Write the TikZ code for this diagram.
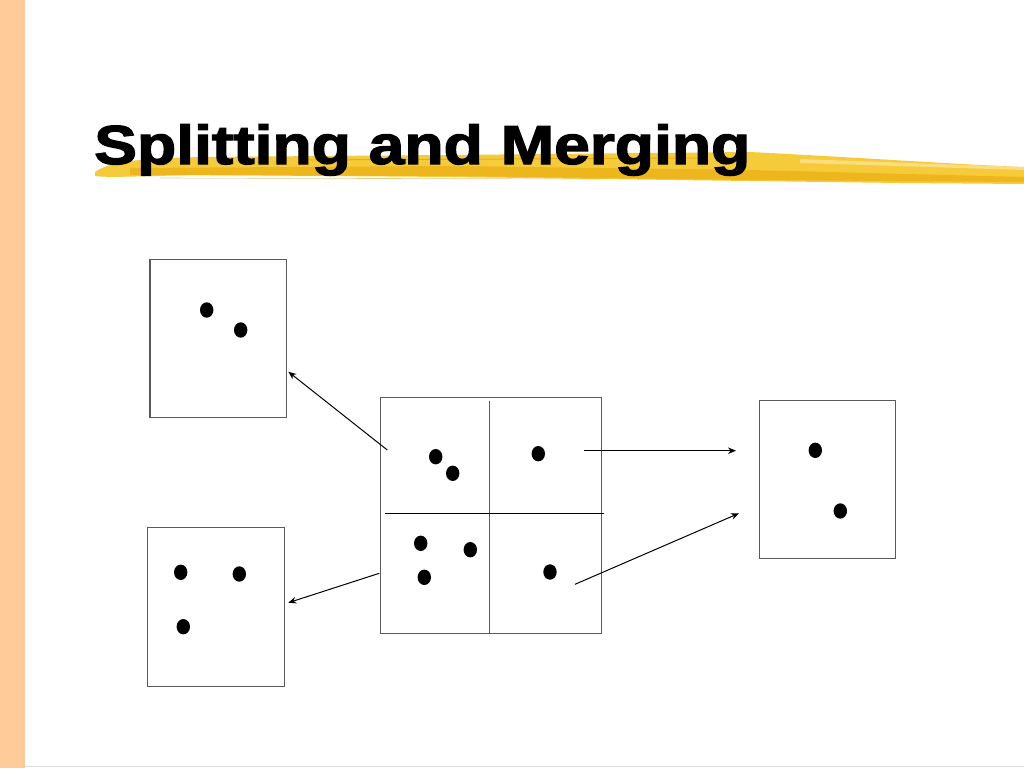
\documentclass[tikz,border=0pt]{standalone}
\usepackage{fontspec}
\usepackage{graphicx}
\newfontfamily\titlefont{Liberation Sans}[Ligatures=NoCommon,BoldFeatures={FakeBold=2.2}]
\usetikzlibrary{arrows.meta}
\definecolor{sidebar}{HTML}{FFCC99}
\definecolor{brushA}{HTML}{F6CB3A}
\definecolor{brushB}{HTML}{EAB012}
\definecolor{boxgray}{HTML}{5A5A5A}
\begin{document}
\begin{tikzpicture}[x=1pt,y=-1pt,
  box/.style={draw=boxgray,line width=1.2pt,inner sep=0pt,outer sep=0pt,
    minimum width=136.5pt,minimum height=158.5pt},
  bigbox/.style={draw=boxgray,line width=1.2pt,inner sep=0pt,outer sep=0pt,
    minimum width=221.5pt,minimum height=235.5pt},
  arr/.style={-{Stealth[length=8pt,width=6.5pt]},line width=1pt,black},
  dot/.style={fill=black}]
\useasboundingbox (0,0) rectangle (1024,768);
\fill[white] (0,0) rectangle (1024,768);
% sidebar and bottom line
\fill[sidebar] (0,0) rectangle (25,768);
\fill[gray!25] (25,765.5) rectangle (1024,767);
% brush stroke
\fill[brushA] (95,172) .. controls (110,162) and (130,159) .. (200,157)
  -- (450,155) -- (750,152) .. controls (850,157) and (950,164) .. (1024,167)
  -- (1024,184) -- (900,183) -- (750,181) -- (450,177) -- (200,175)
  .. controls (140,176) and (110,178) .. (95,176) -- cycle;
\fill[brushB,opacity=0.75] (130,168) -- (450,166) -- (750,170) -- (1024,177)
  -- (1024,182) -- (750,180) -- (450,176) -- (130,175) -- cycle;
\fill[white,opacity=0.35] (800,159) -- (1024,167) -- (1024,170) -- (800,163) -- cycle;
\draw[brushB,line width=1pt] (300,160) -- (700,158);
\draw[brushB!85!black,line width=0.6pt,opacity=0.5] (160,178) -- (600,179);
% title
\node[anchor=base west,inner sep=0pt] (title) at (94,164)
  {\resizebox{656pt}{\height}{\fontsize{55pt}{60pt}\titlefont\bfseries Splitting and Merging}};
% boxes
\node[box] (tl) at (218.3,338.4) {};
\node[box] (bl) at (216,606.9) {};
\node[box] (rt) at (827.4,479.4) {};
\node[bigbox] (mid) at (491,515.5) {};
% dividers
\coordinate (vtop) at (489.7,400.7);
\coordinate (vbot) at (489.7,633.3);
\coordinate (hl) at (385.3,513.3);
\coordinate (hr) at (604,513.3);
\draw[boxgray,line width=1.2pt] (vtop) -- (vbot);
\draw[black,line width=1pt] (hl) -- (hr);
% dots
\foreach \p in {(206.7,310),(240.7,330),
  (180.7,572.3),(239.3,574),(183.3,626.7),
  (815.3,450.3),(840.3,511),
  (435.7,456.7),(452.7,473.3),(538.3,453.7),
  (420.7,543.3),(470.3,549.7),(424.3,577.3),(550,572)}
  \fill[dot] \p ellipse[x radius=6.7pt,y radius=7.7pt];
% arrows
\coordinate (a1s) at (387.3,450);
\coordinate (a1e) at (288.3,371.7);
\coordinate (a2s) at (379.3,573.3);
\coordinate (a2e) at (288.3,602.7);
\coordinate (a3s) at (584.3,450.7);
\coordinate (a3e) at (736,450.7);
\coordinate (a4s) at (575,584.3);
\coordinate (a4e) at (739,513.3);
\draw[arr] (a1s) -- (a1e);
\draw[arr] (a2s) -- (a2e);
\draw[arr] (a3s) -- (a3e);
\draw[arr] (a4s) -- (a4e);
\end{tikzpicture}
\end{document}
